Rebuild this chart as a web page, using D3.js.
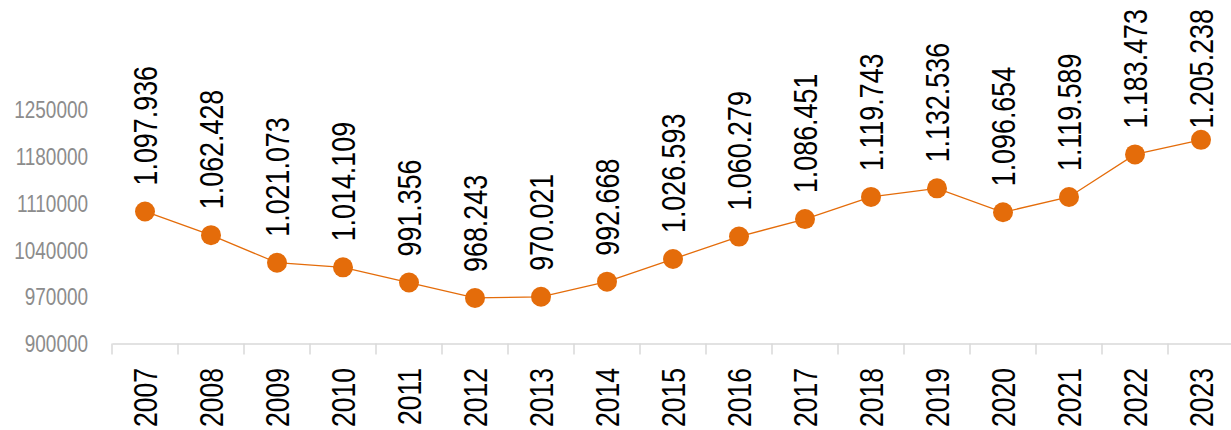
<!DOCTYPE html>
<html>
<head>
<meta charset="utf-8">
<script src="https://cdn.jsdelivr.net/npm/d3@7"></script>
<style>
  body { margin: 0; background: #fff; }
  svg text { font-family: "Liberation Sans", Arial, sans-serif; }
</style>
</head>
<body>
<div id="chart"></div>
<script>
// 数据
const years = ["2007","2008","2009","2010","2011","2012","2013","2014","2015","2016","2017","2018","2019","2020","2021","2022","2023"];
const values = [1097936,1062428,1021073,1014109,991356,968243,970021,992668,1026593,1060279,1086451,1119743,1132536,1096654,1119589,1183473,1205238];
const valueLabels = ["1.097.936","1.062.428","1.021.073","1.014.109","991.356","968.243","970.021","992.668","1.026.593","1.060.279","1.086.451","1.119.743","1.132.536","1.096.654","1.119.589","1.183.473","1.205.238"];
const yTicks = [900000,970000,1040000,1110000,1180000,1250000];

const W = 1231, H = 430;
const orange = "#E46C0A";
const narrow = 0.79; // 模拟窄体字

const svg = d3.select("#chart").append("svg")
  .attr("width", W)
  .attr("height", H);

const x = d3.scaleBand()
  .domain(years)
  .range([112, 1234]);

const y = d3.scaleLinear()
  .domain([900000, 1250000])
  .range([343.5, 110]);

const cx = d => x(d) + x.bandwidth() / 2;

// Y轴标签
svg.append("g")
  .selectAll("text")
  .data(yTicks)
  .enter().append("text")
  .attr("transform", d => `translate(88,${y(d)}) scale(${narrow},1)`)
  .attr("dy", "0.35em")
  .attr("text-anchor", "end")
  .attr("fill", "#8c8c8c")
  .style("font-size", "24px")
  .text(d => d);

// X轴
const xAxis = svg.append("g")
  .attr("transform", `translate(0,${y(900000)})`)
  .call(d3.axisBottom(x).tickSize(0).tickFormat(""));
xAxis.select(".domain").attr("stroke", "#d9d9d9").attr("stroke-width", 1.5);

// 刻度线 (在分类之间)
svg.append("g")
  .selectAll("line")
  .data(years)
  .enter().append("line")
  .attr("x1", d => x(d))
  .attr("x2", d => x(d))
  .attr("y1", y(900000))
  .attr("y2", y(900000) + 11)
  .attr("stroke", "#d9d9d9")
  .attr("stroke-width", 1.5);

// 年份标签
svg.append("g")
  .selectAll("text")
  .data(years)
  .enter().append("text")
  .attr("transform", d => `translate(${cx(d)},368) rotate(-90) scale(0.78,1)`)
  .attr("dy", "0.35em")
  .attr("text-anchor", "end")
  .attr("fill", "#000")
  .style("font-size", "34px")
  .text(d => d);

// 折线
const line = d3.line()
  .x((d, i) => cx(years[i]))
  .y(d => y(d));

svg.append("path")
  .datum(values)
  .attr("fill", "none")
  .attr("stroke", orange)
  .attr("stroke-width", 1.3)
  .attr("d", line);

// 数据点
svg.append("g")
  .selectAll("circle")
  .data(values)
  .enter().append("circle")
  .attr("cx", (d, i) => cx(years[i]))
  .attr("cy", d => y(d))
  .attr("r", 10)
  .attr("fill", orange);

// 数据标签
const labels = svg.append("g")
  .selectAll("text")
  .data(values)
  .enter().append("text")
  .attr("dy", "0.35em")
  .attr("text-anchor", "start")
  .attr("fill", "#000")
  .style("font-size", "34px")
  .text((d, i) => valueLabels[i]);

labels.each(function(d, i) {
  const len = this.getComputedTextLength() * narrow;
  let start = y(d) - 26;
  if (start - len < 9) start = len + 9; // 顶部放不下时下移
  d3.select(this).attr("transform", `translate(${cx(years[i])},${start}) rotate(-90) scale(${narrow},1)`);
});
</script>
</body>
</html>
